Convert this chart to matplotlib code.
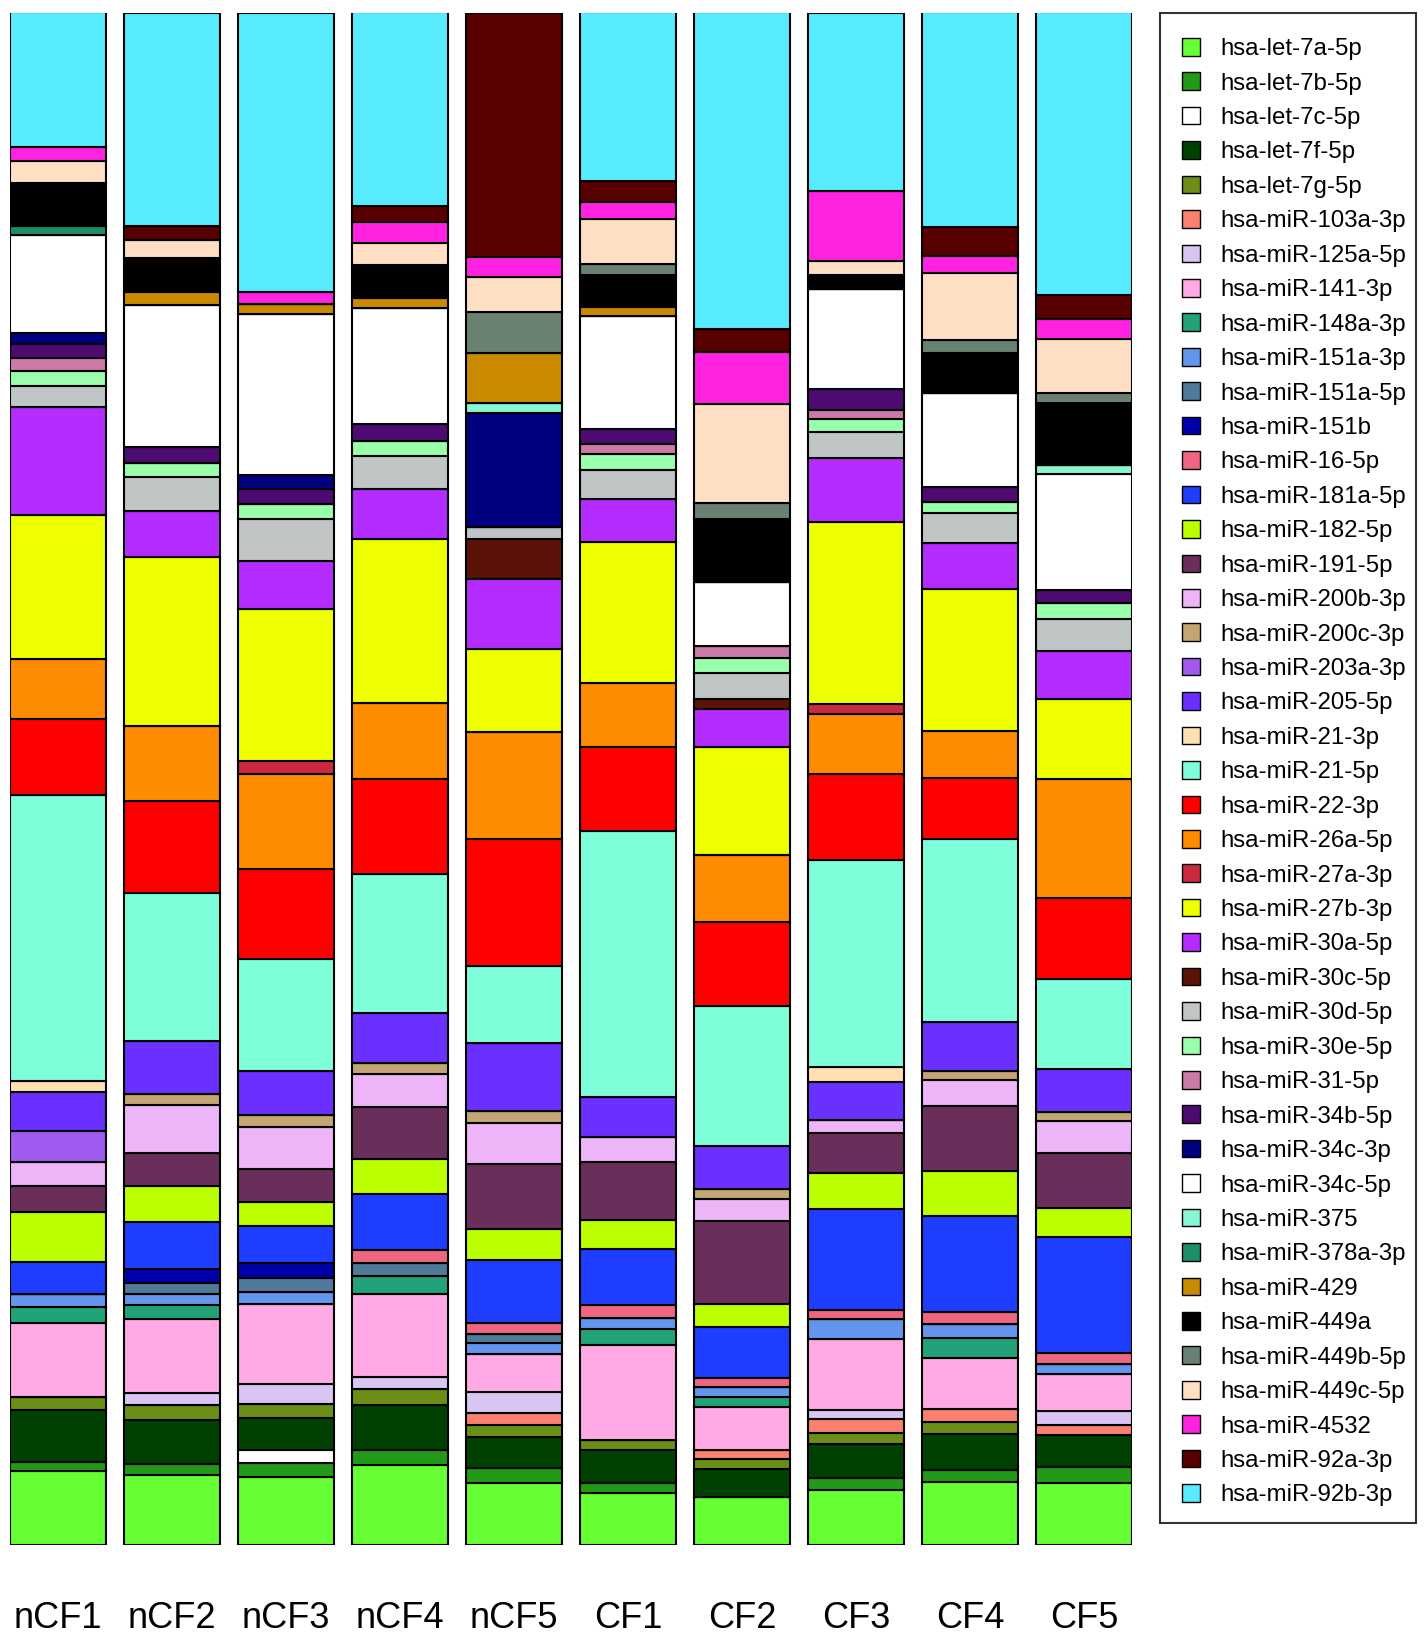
import numpy as np
import matplotlib
matplotlib.use("Agg")
import matplotlib.pyplot as plt
from matplotlib.patches import Patch, Rectangle

plt.rcParams["font.family"] = ["Liberation Sans", "DejaVu Sans"]

samples = ["nCF1", "nCF2", "nCF3", "nCF4", "nCF5", "CF1", "CF2", "CF3", "CF4", "CF5"]

# stacking order: first entry at the bottom of each bar
mirnas = [
    "hsa-let-7a-5p", "hsa-let-7b-5p", "hsa-let-7c-5p", "hsa-let-7f-5p", "hsa-let-7g-5p",
    "hsa-miR-103a-3p", "hsa-miR-125a-5p", "hsa-miR-141-3p", "hsa-miR-148a-3p",
    "hsa-miR-151a-3p", "hsa-miR-151a-5p", "hsa-miR-151b", "hsa-miR-16-5p",
    "hsa-miR-181a-5p", "hsa-miR-182-5p", "hsa-miR-191-5p", "hsa-miR-200b-3p",
    "hsa-miR-200c-3p", "hsa-miR-203a-3p", "hsa-miR-205-5p", "hsa-miR-21-3p",
    "hsa-miR-21-5p", "hsa-miR-22-3p", "hsa-miR-26a-5p", "hsa-miR-27a-3p",
    "hsa-miR-27b-3p", "hsa-miR-30a-5p", "hsa-miR-30c-5p", "hsa-miR-30d-5p",
    "hsa-miR-30e-5p", "hsa-miR-31-5p", "hsa-miR-34b-5p", "hsa-miR-34c-3p",
    "hsa-miR-34c-5p", "hsa-miR-375", "hsa-miR-378a-3p", "hsa-miR-429",
    "hsa-miR-449a", "hsa-miR-449b-5p", "hsa-miR-449c-5p", "hsa-miR-4532",
    "hsa-miR-92a-3p", "hsa-miR-92b-3p",
]

colors = [
    "#66FF33", "#229A18", "#FFFFFF", "#004000", "#6B8E16",
    "#FA8070", "#D9C4F2", "#FFAAE4", "#21A278",
    "#6495ED", "#507A99", "#0000AA", "#EE6680",
    "#1F3DFF", "#BBFF00", "#6A2E5A", "#EEB4F8",
    "#C4A574", "#A05AF0", "#6A30FF", "#FFE0B2",
    "#7FFFD9", "#FF0000", "#FF8C00", "#CC2941",
    "#EEFF00", "#B42CFF", "#5C1206", "#C0C6C6",
    "#99FFAA", "#CC79A7", "#4D0A70", "#000080",
    "#FFFFFF", "#88F5D5", "#1E8E6A", "#C98A00",
    "#000000", "#6A8070", "#FFDFC4", "#FF22E0",
    "#580000", "#57EBFF",
]

# relative abundance per sample, same order as mirnas
nCF1 = [148, 19, 0, 103, 27, 0, 0, 148, 32, 25, 0, 0, 0, 65, 101, 52, 47, 0, 63, 77, 23,
        573, 152, 120, 0, 288, 216, 0, 43, 30, 26, 27, 23, 197, 0, 18, 0, 85, 0, 45, 27, 0, 270]
nCF2 = [140, 23, 0, 87, 30, 0, 25, 148, 27, 23, 22, 27, 0, 95, 73, 65, 97, 21, 0, 107, 0,
        297, 183, 150, 0, 340, 92, 0, 67, 28, 0, 33, 0, 285, 0, 0, 25, 68, 0, 37, 0, 27, 428]
nCF3 = [137, 28, 25, 65, 28, 0, 40, 160, 0, 24, 28, 30, 0, 75, 47, 66, 84, 25, 0, 88, 0,
        223, 182, 190, 25, 305, 97, 0, 83, 30, 0, 30, 28, 324, 0, 0, 20, 0, 0, 0, 23, 0, 560]
nCF4 = [160, 30, 0, 90, 33, 0, 24, 166, 37, 0, 25, 0, 27, 111, 70, 104, 68, 22, 0, 100, 0,
        278, 190, 152, 0, 330, 100, 0, 65, 32, 0, 33, 0, 232, 0, 0, 20, 66, 0, 45, 42, 32, 388]
nCF5 = [125, 30, 0, 62, 23, 25, 42, 76, 0, 22, 18, 0, 22, 125, 63, 130, 82, 25, 0, 135, 0,
        155, 255, 213, 0, 167, 140, 80, 25, 0, 0, 0, 228, 0, 20, 0, 99, 0, 83, 70, 40, 490, 0]
CF1 = [105, 20, 0, 65, 20, 0, 0, 190, 32, 23, 0, 0, 25, 112, 60, 115, 51, 0, 0, 79, 0,
       533, 168, 129, 0, 283, 85, 0, 58, 32, 20, 30, 0, 228, 0, 0, 17, 65, 22, 90, 33, 43, 337]
CF2 = [97, 0, 0, 56, 20, 17, 0, 87, 20, 20, 0, 0, 18, 102, 45, 168, 43, 20, 0, 87, 0,
       280, 168, 135, 0, 215, 77, 20, 52, 30, 23, 0, 0, 130, 0, 0, 0, 125, 32, 198, 105, 45, 635]
CF3 = [110, 25, 0, 68, 22, 27, 18, 143, 0, 39, 0, 0, 18, 203, 72, 80, 27, 0, 0, 76, 29,
       416, 172, 120, 20, 365, 127, 0, 53, 25, 18, 42, 0, 202, 0, 0, 0, 28, 0, 28, 140, 0, 357]
CF4 = [127, 23, 0, 73, 24, 26, 0, 102, 40, 27, 0, 0, 25, 193, 90, 130, 52, 18, 0, 98, 0,
       367, 122, 93, 0, 285, 93, 0, 59, 23, 0, 30, 0, 187, 0, 0, 0, 81, 25, 135, 34, 58, 430]
CF5 = [125, 32, 0, 63, 0, 20, 28, 74, 0, 20, 0, 0, 23, 232, 58, 110, 65, 18, 0, 85, 0,
       180, 164, 238, 0, 160, 95, 0, 65, 33, 0, 25, 0, 232, 18, 0, 0, 124, 20, 108, 42, 48, 565]

data = np.array([nCF1, nCF2, nCF3, nCF4, nCF5, CF1, CF2, CF3, CF4, CF5], dtype=float)
pct = data / data.sum(axis=1, keepdims=True) * 100

W, H = 1426, 1636
fig = plt.figure(figsize=(W / 100, H / 100), dpi=100)
ax = fig.add_axes([10.4 / W, 1 - 1545 / H, 1121.6 / W, (1545 - 12.5) / H])

x = np.arange(len(samples))
bottom = np.zeros(len(samples))
for i, name in enumerate(mirnas):
    ax.bar(x, pct[:, i], bottom=bottom, width=0.84, color=colors[i],
           edgecolor="black", linewidth=1.5)
    bottom += pct[:, i]

ax.set_xlim(-0.42, len(samples) - 1 + 0.42)
ax.set_ylim(0, 100)
ax.set_xticks(x)
ax.set_xticklabels(samples, fontsize=26)
ax.tick_params(axis="x", length=0, pad=40)
ax.set_yticks([])
for s in ax.spines.values():
    s.set_visible(False)

# legend without its own frame, box drawn separately
handles = [Patch(facecolor=c, edgecolor="black", linewidth=1.0) for c in colors]
leg = fig.legend(handles, mirnas, loc="upper left",
                 bbox_to_anchor=(1182 / W, 1 - 38 / H), bbox_transform=fig.transFigure,
                 fontsize=17.3, handlelength=0.75, handleheight=0.75, handletextpad=0.85,
                 labelspacing=0.51, borderpad=0, borderaxespad=0, frameon=False)
fig.patches.append(Rectangle((1160 / W, 1 - 1523 / H), 256 / W, (1523 - 12.5) / H,
                             transform=fig.transFigure, fill=False,
                             edgecolor="#333333", linewidth=1.5))

fig.savefig("out.png", dpi=100)
